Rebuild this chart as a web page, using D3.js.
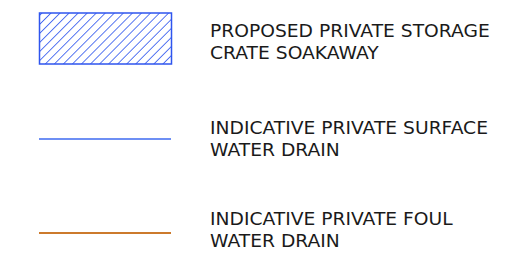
<!DOCTYPE html>
<html>
<head>
<meta charset="utf-8">
<script src="https://cdn.jsdelivr.net/npm/d3@7"></script>
<style>
  body { margin: 0; background: #fff; }
  text { font-family: "DejaVu Sans", sans-serif; fill: #1a1a1a; }
</style>
</head>
<body>
<script>
// legend entries
var keys = ["crate", "surface", "foul"];
var symbols = ["hatch", "line", "line"];
var colours = ["#2f55ee", "#6e8ff4", "#cc7a2c"];
var labels = [
  ["PROPOSED PRIVATE STORAGE", "CRATE SOAKAWAY"],
  ["INDICATIVE PRIVATE SURFACE", "WATER DRAIN"],
  ["INDICATIVE PRIVATE FOUL", "WATER DRAIN"]
];

var width = 521, height = 266;

var svg = d3.select("body").append("svg")
    .attr("width", width)
    .attr("height", height);

// row centres for symbols and first-line baselines for labels
var ySym = d3.scaleOrdinal().domain(keys).range([38.5, 139, 233]);
var yTxt = d3.scaleOrdinal().domain(keys).range([37, 134, 225]);
var x = d3.scaleLinear().domain([0, 1]).range([39, 171]);

var defs = svg.append("defs");
var pat = defs.append("pattern")
    .attr("id", "hatch")
    .attr("patternUnits", "userSpaceOnUse")
    .attr("width", 6.4)
    .attr("height", 6.4)
    .attr("patternTransform", "rotate(45)");
pat.append("line")
    .attr("x1", 0).attr("y1", 0)
    .attr("x2", 0).attr("y2", 6.4)
    .attr("stroke", colours[0])
    .attr("stroke-width", 1.6);

var rows = svg.selectAll("g.row")
  .data(keys)
  .enter().append("g")
    .attr("class", "row");

rows.each(function(k, i) {
  var g = d3.select(this);
  if (symbols[i] == "hatch") {
    g.append("rect")
        .attr("x", x(0) + 0.5)
        .attr("y", ySym(k) - 25.5)
        .attr("width", x(1) - x(0))
        .attr("height", 51)
        .attr("fill", "url(#hatch)")
        .attr("stroke", colours[i])
        .attr("stroke-width", 1.5);
  } else {
    g.append("line")
        .attr("x1", x(0))
        .attr("x2", x(1))
        .attr("y1", ySym(k))
        .attr("y2", ySym(k))
        .attr("stroke", colours[i])
        .attr("stroke-width", 2);
  }
  // Century Gothic is wide, stretch DejaVu a little
  var t = g.append("text")
      .attr("transform", "translate(210," + yTxt(k) + ") scale(1.1,1)")
      .style("font-size", "17px");
  t.selectAll("tspan")
    .data(labels[i])
    .enter().append("tspan")
      .attr("x", 0)
      .attr("dy", function(d, j) { return j ? 22 : 0; })
      .text(function(d) { return d; });
});
</script>
</body>
</html>
